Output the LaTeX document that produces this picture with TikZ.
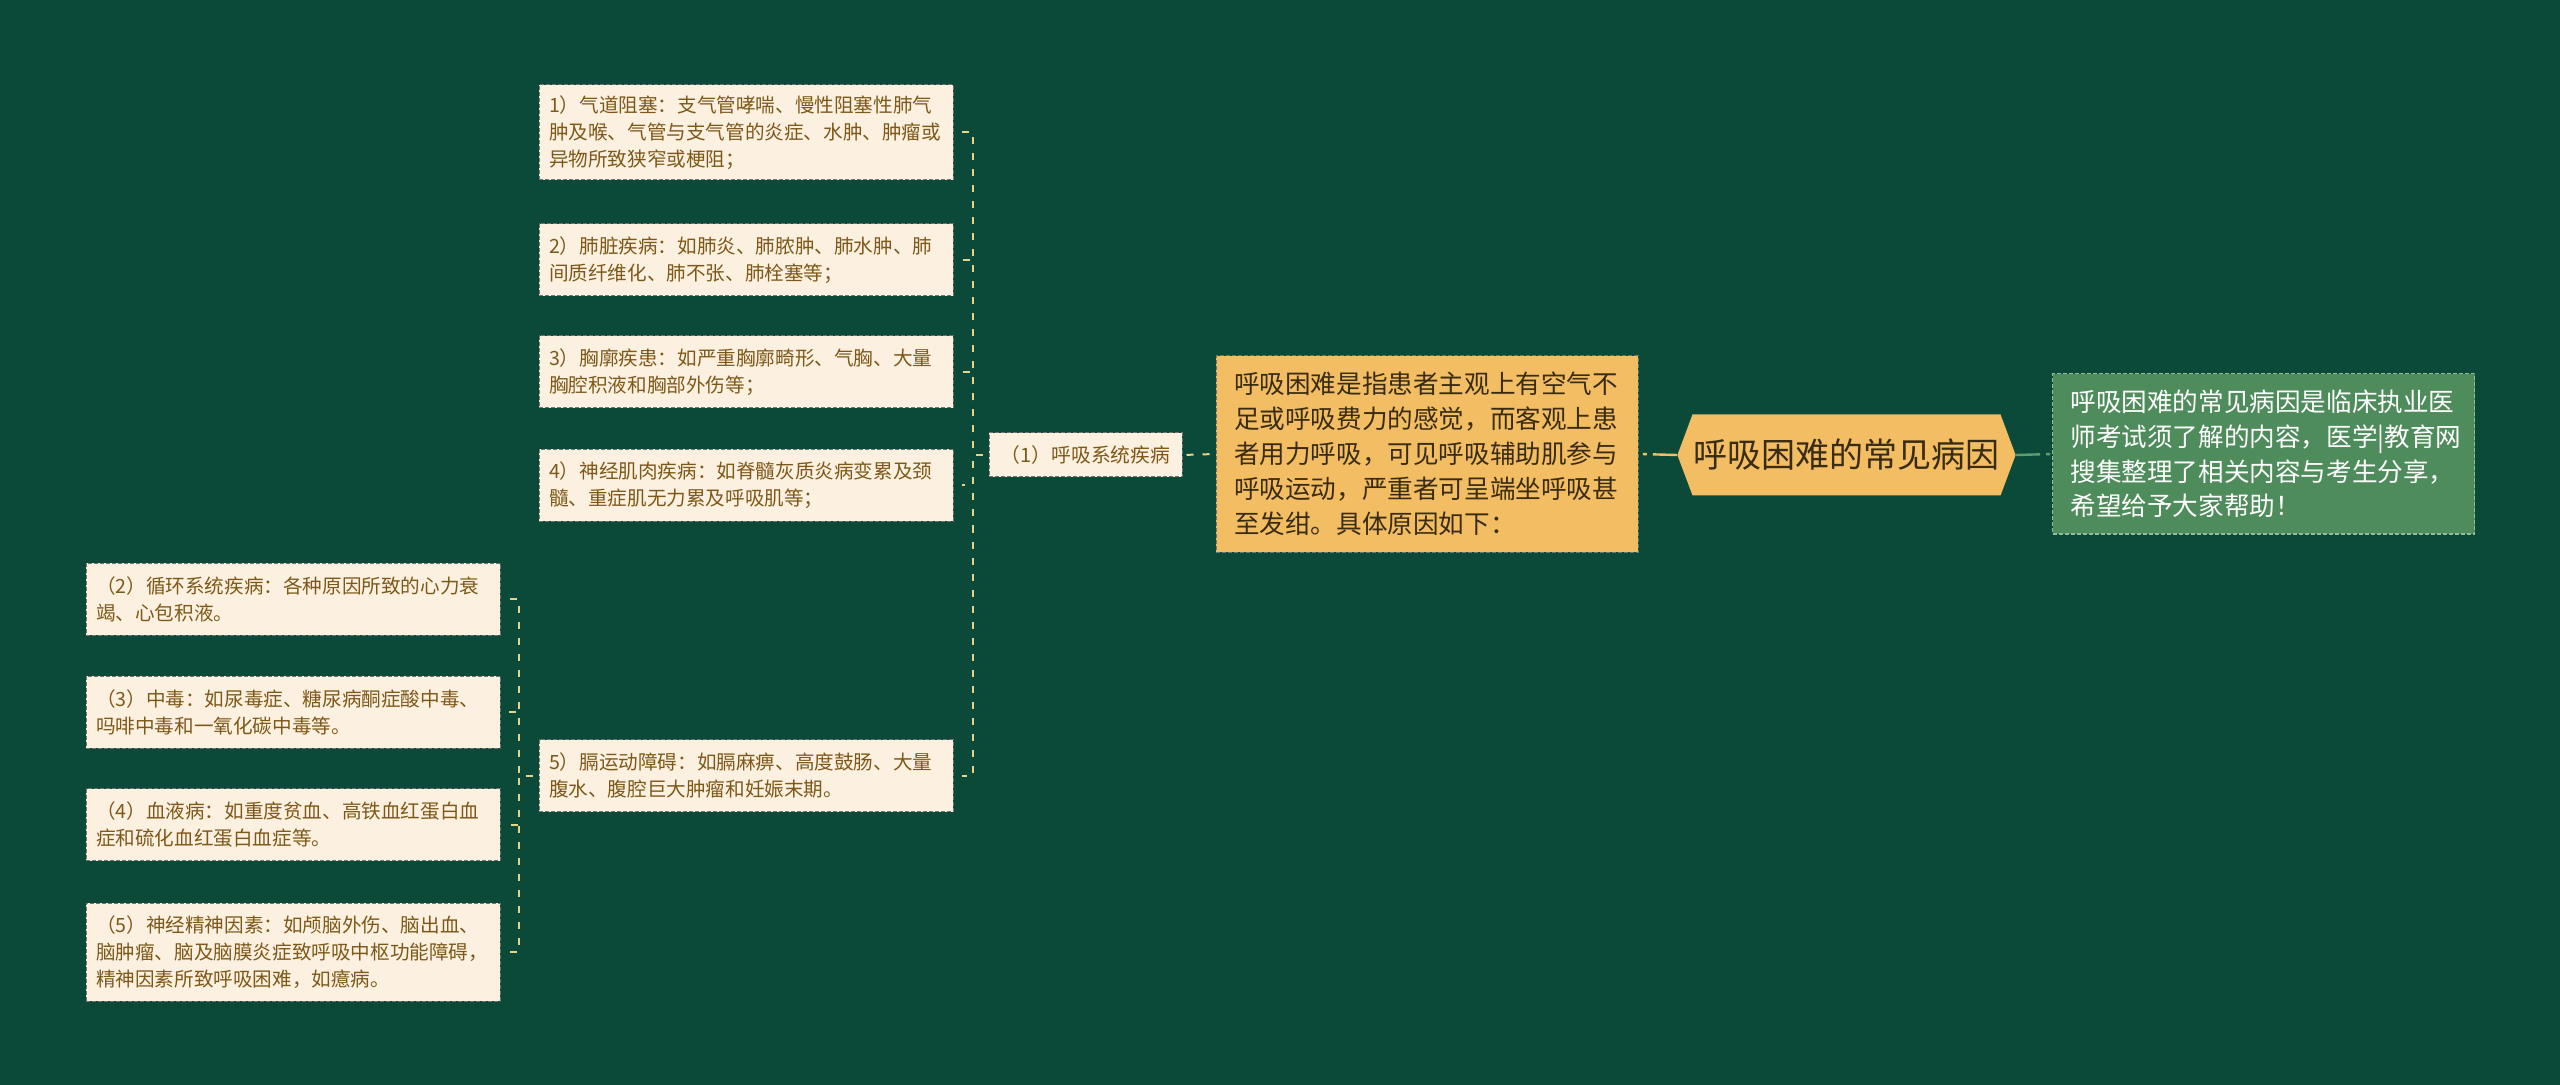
\documentclass[tikz,border=0pt]{standalone}
\usepackage{fontspec}
\usepackage{tikz}
\usetikzlibrary{shapes.symbols}
\newfontfamily\cjk{Noto Sans CJK SC}
\definecolor{bgcol}{HTML}{0B4A39}
\definecolor{leaffill}{HTML}{FCF1E0}
\definecolor{leaftext}{HTML}{7E5818}
\definecolor{linkcol}{HTML}{E6D48A}
\definecolor{goldfill}{HTML}{F2BD63}
\definecolor{goldtext}{HTML}{3A2C12}
\definecolor{greenfill}{HTML}{4F8C5C}
\definecolor{greenline}{HTML}{5E9E6E}

\begin{document}
\begin{tikzpicture}[x=0.5pt,y=-0.5pt,
    leaf/.style={draw=black!55, line width=0.5pt, dash pattern=on 2pt off 1pt,
      fill=leaffill, text=leaftext, align=left, text width=197pt, inner xsep=5pt,
      minimum height=36pt, font={\cjk\fontsize{9.8pt}{13.5pt}\selectfont}},
    link/.style={draw=linkcol, line width=1pt, dash pattern=on 3.5pt off 4.5pt},
    mainbox/.style={draw=black!55, line width=0.5pt, dash pattern=on 2pt off 1pt,
      align=left, text width=193pt, inner xsep=9pt,
      font={\cjk\fontsize{12.8pt}{17.5pt}\selectfont}}]
          % background
          \fill[bgcol] (0,0) rectangle (2560,1085);
          % causes of the respiratory group
          \node[leaf, minimum height=47.5pt] (b1) at (746,132.5) {1）气道阻塞：支气管哮喘、慢性阻塞性肺气\\肿及喉、气管与支气管的炎症、水肿、肿瘤或\\异物所致狭窄或梗阻；};
          \node[leaf] (b2) at (746,260) {2）肺脏疾病：如肺炎、肺脓肿、肺水肿、肺\\间质纤维化、肺不张、肺栓塞等；};
          \node[leaf] (b3) at (746,372) {3）胸廓疾患：如严重胸廓畸形、气胸、大量\\胸腔积液和胸部外伤等；};
          \node[leaf] (b4) at (746,485.5) {4）神经肌肉疾病：如脊髓灰质炎病变累及颈\\髓、重症肌无力累及呼吸肌等；};
          \node[leaf] (b5) at (746,775.5) {5）膈运动障碍：如膈麻痹、高度鼓肠、大量\\腹水、腹腔巨大肿瘤和妊娠末期。};
          % other causes
          \node[leaf] (c2) at (293,599) {（2）循环系统疾病：各种原因所致的心力衰\\竭、心包积液。};
          \node[leaf] (c3) at (293,712) {（3）中毒：如尿毒症、糖尿病酮症酸中毒、\\吗啡中毒和一氧化碳中毒等。};
          \node[leaf] (c4) at (293,824.5) {（4）血液病：如重度贫血、高铁血红蛋白血\\症和硫化血红蛋白血症等。};
          \node[leaf, minimum height=49pt] (c5) at (293,952) {（5）神经精神因素：如颅脑外伤、脑出血、\\脑肿瘤、脑及脑膜炎症致呼吸中枢功能障碍，\\精神因素所致呼吸困难，如癔病。};
          % respiratory group
          \node[draw=black!55, line width=0.5pt, dash pattern=on 2pt off 1pt, fill=leaffill,
            text=leaftext, minimum width=96.5pt, minimum height=22pt,
            font={\cjk\fontsize{9.9pt}{11pt}\selectfont}] (sys) at (1085.5,455) {（1）呼吸系统疾病};
          % definition
          \node[mainbox, fill=goldfill, text=goldtext, minimum height=98pt] (def) at (1427,454) {呼吸困难是指患者主观上有空气不\\足或呼吸费力的感觉，而客观上患\\者用力呼吸，可见呼吸辅助肌参与\\呼吸运动，严重者可呈端坐呼吸甚\\至发绀。具体原因如下：};
          % title
          \node[shape=signal, signal to=west and east, signal pointer angle=139, fill=goldfill,
            text=goldtext, inner xsep=0.5pt, minimum height=40.5pt,
            font={\cjk\fontsize{17pt}{20pt}\selectfont}] (title) at (1846.5,455) {呼吸困难的常见病因};
          % note
          \node[mainbox, draw=greenfill!60!white, fill=greenfill, text=white, minimum height=80pt,
            font={\cjk\fontsize{12.8pt}{17.4pt}\selectfont}] (note) at (2263.5,454) {呼吸困难的常见病因是临床执业医\\师考试须了解的内容，医学|教育网\\搜集整理了相关内容与考生分享，\\希望给予大家帮助！};
          % bracket points
          \coordinate (rb) at (973,455);
          \coordinate (lb) at (519,775.5);
          % links to the respiratory causes
          \foreach \n in {b1,b2,b3,b4,b5}
            \draw[link, shorten <=3pt, shorten >=4pt] (sys.west) -- (rb) |- (\n.east);
          % links to the other causes
          \foreach \n in {c2,c3,c4,c5}
            \draw[link, shorten <=3pt, shorten >=4pt] (b5.west) -- (lb) |- (\n.east);
          % main links
          \draw[link, shorten <=2pt, shorten >=2pt] (sys.east) -- (def.west);
          \draw[draw=goldfill, line width=1.2pt, dash pattern=on 12pt off 3pt on 2pt off 3pt] (title.west) -- (def.east);
          \draw[draw=greenline, line width=1.2pt, dash pattern=on 12pt off 3pt on 2pt off 3pt] (title.east) -- (note.west);
        \end{tikzpicture}
\end{document}
